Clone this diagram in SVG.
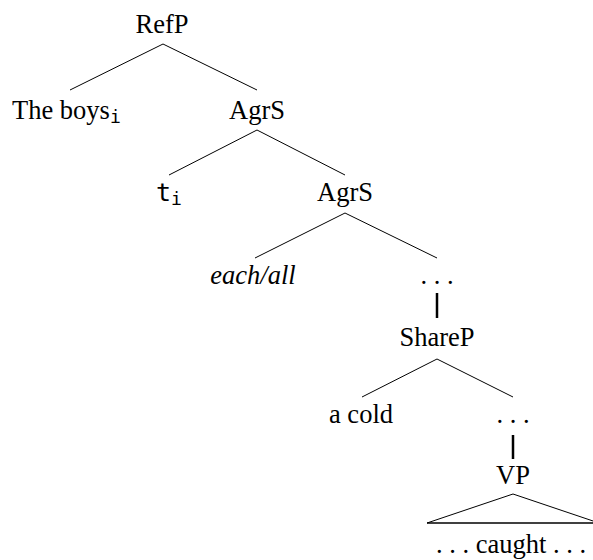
<svg xmlns="http://www.w3.org/2000/svg" width="593" height="560" viewBox="0 0 593 560">
<style>
text{font-family:"Liberation Serif","Times New Roman",serif;font-size:26.5px;fill:#000;text-anchor:middle}
.it{font-style:italic}
.mono{font-family:"DejaVu Sans Mono","Liberation Mono",monospace;font-size:25px}
.sub{font-family:"DejaVu Sans Mono","Liberation Mono",monospace;font-size:18px}
.e{stroke:#000;stroke-width:1;fill:none}
.v{stroke:#000;stroke-width:2.5;fill:none}
</style>
<rect width="593" height="560" fill="#fff"/>
<g id="connectors">
<line class="e" x1="163" y1="44" x2="70" y2="90"/>
<line class="e" x1="163" y1="44" x2="257" y2="90"/>
<line class="e" x1="257" y1="130" x2="169" y2="175"/>
<line class="e" x1="257" y1="130" x2="345" y2="175"/>
<line class="e" x1="345" y1="213" x2="255" y2="258"/>
<line class="e" x1="345" y1="213" x2="437" y2="258"/>
<line class="v" x1="437" y1="293" x2="437" y2="318"/>
<line class="e" x1="437" y1="359" x2="362" y2="397"/>
<line class="e" x1="437" y1="359" x2="513" y2="397"/>
<line class="v" x1="513" y1="435" x2="513" y2="459"/>
<path class="e" d="M427,523 L513,494 L599,523"/>
<line x1="427" y1="523" x2="599" y2="523" stroke="#000" stroke-width="1.6"/>
</g>
<g id="refp"><text x="162" y="33">RefP</text></g>
<g id="theboys"><text x="12" y="119" style="text-anchor:start">The boys<tspan class="sub" dy="4">i</tspan></text></g>
<g id="agrs1"><text x="257" y="119">AgrS</text></g>
<g id="ti"><text x="156" y="201" style="text-anchor:start"><tspan class="mono">t</tspan><tspan class="sub" dy="4">i</tspan></text></g>
<g id="agrs2"><text x="345" y="201">AgrS</text></g>
<g id="eachall"><text class="it" x="253" y="284">each/all</text></g>
<g id="dots1"><text x="437" y="284">. . .</text></g>
<g id="sharep"><text x="437" y="346">ShareP</text></g>
<g id="acold"><text x="361" y="423">a cold</text></g>
<g id="dots2"><text x="513" y="423">. . .</text></g>
<g id="vp"><text x="513" y="484">VP</text></g>
<g id="caught"><text x="511" y="553">. . . caught . . .</text></g>
</svg>
